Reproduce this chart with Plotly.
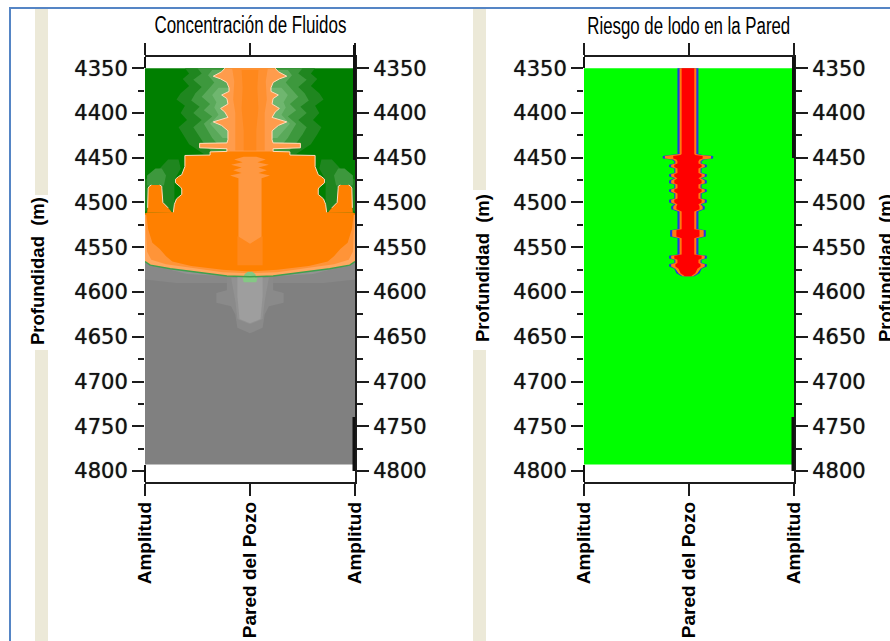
import plotly.graph_objects as go

W, H = 890, 641
depth_ticks_start, depth_tick_step = 4350, 50
x_tick_vals = [-100, 0, 100]
x_tick_labels = ["Amplitud", "Pared del Pozo", "Amplitud"]
titles = ["Concentración de Fluidos", "Riesgo de lodo en la Pared"]
y_title = "Profundidad\u00a0\u00a0(m)"
DEPTH_TOP, DEPTH_BOTTOM = 4350, 4792.5

# ---- Left panel: half widths (% of half panel) against depth (m)
body_depth = [4350,4354,4359,4362,4366,4372,4376,4380,4384,4390,4395,4399,4405,4410,4414,4420,4430,4433.5,
              4434,4439,4440,4443,4443.5,4447,4447.5,4460,4469,4471,4474,4478,4483,4485,4491,4496,4502,4511,4512,4566,4570,4574,4578,4582,4583]
body_half  = [24,27,35,28,22,20,20,27,22,21,28,24,21,35,27,21,21,22,
              48,48,22,22,38,38,62,62,65,68,71,71,66,65,65,70,72,73,100,100,95,76,50,22,0]
stem_end = 22     # points of the body profile that form the upper stem
edge_end = 36     # points of the body profile that border green

low_depth_pale = [4514,4566,4570,4574,4578,4582,4583]
low_half_pale  = [100,100,95,76,50,22,0]
low_depth_mid  = [4514,4535,4555,4564,4569,4573,4578,4579]
low_half_mid   = [99.5,99,98,94,80,56,26,0]
low_depth_core = [4511.5,4530,4545,4552,4560,4566,4571,4575,4577]
low_half_core  = [99,97,93,86,80,74,56,26,0]

tower_depth = [4480.5,4482,4484,4500,4506,4511.5]
tower_in    = [86,84,84,83,78,74]
tower_out   = [94,96,97,97,97.5,98]

halo1_depth = [4350,4356,4362,4370,4378,4385,4392,4400,4408,4416,4424,4435,4446]
halo1_half  = [62,58,64,58,66,70,62,66,60,68,64,58,44]
halo2_depth = [4350,4356,4363,4371,4378,4386,4393,4400,4408,4416,4424,4434,4444]
halo2_half  = [50,46,54,46,52,56,48,54,46,54,50,44,36]
halo3_depth = [4352,4358,4366,4374,4382,4390,4397,4404,4412,4420,4428,4436]
halo3_half  = [36,40,34,40,46,38,44,36,44,40,36,30]
halo4_depth = [4372,4380,4388,4394,4402,4412,4420,4428]
halo4_half  = [30,36,32,34,30,38,32,26]

corner1_depth = [4452,4462,4475,4490,4510]
corner1_in    = [68,66,72,72,72]
corner1_out   = [78,86,100,100,100]
corner2_depth = [4462,4470,4481]
corner2_in    = [84,80,82]
corner2_out   = [90,98,98]

stem2_depth = [4350,4365,4385,4400,4420,4442]
stem2_half  = [17,15,16,14,14,14]
stem3_depth = [4352,4372,4395,4420,4442]
stem3_half  = [8,7,8,6,6]

ripple_depth = [4449,4452,4455,4458,4461,4464,4467,4470,4473,4538,4546]
ripple_half  = [6,15,7,18,8,16,8,19,11,11,0]
column_depth = [4538,4570]
column_half  = [12,12]

gray1_depth = [4566,4586,4590]
gray1_half  = [100,100,70]
gray2_depth = [4568,4580,4584]
gray2_half  = [100,60,0]
gray3_depth = [4584,4598,4601,4612,4616,4625,4640,4646]
gray3_half  = [22,22,32,32,18,14,12,0]
gray4_depth = [4584,4610,4630,4636]
gray4_half  = [18,14,12,0]
gray5_depth = [4583,4605,4630,4635]
gray5_half  = [12,12,10,0]

bump_depth = [4577.5,4580,4585,4589]
bump_half  = [2,5,7,6]

# ---- Right panel
risk_depth  = [4350,4446,4447,4448,4451,4452,4454,4456.5,4458,4460.5,4462,4467,4468.5,4471,4473,4475.5,4478.5,4480,4484,4485.5,4488,
               4490,4495.5,4497,4500,4502,4504.5,4507.5,4510,4530,4531,4538,4540,4558,4559.5,4562.5,4564,4567.5,4569,4571.5,4574,4579,4582.5]
risk_blue   = [10,10,14,24,24,16,13,13,18,18,13,13,18,18,13,18,18,13,13,18,18,
               13,13,18,18,13,16,16,10,10,17,17,10,10,18,18,13,13,18,18,13,11,6]
risk_orange = [8,8,12,22,22,14,12,12,16,16,12,12,16,16,12,16,16,12,12,16,16,
               12,12,16,16,12,14,14,8,8,15,15,8,8,16,16,12,12,16,16,12,9,5]
risk_red    = [6,6,7,14,14,11,10,10,13,13,10,10,13,13,10,13,13,10,10,13,13,
               10,10,13,13,10,11,11,6,6,11,11,6,6,13,13,10,10,12,12,9,7,3]

GREEN, HALO1, HALO2, HALO3, HALO4 = "#007f00", "#1f861f", "#3d983d", "#5aa95a", "#6fb66f"
ORANGE, O_LIGHT, O_MID, O_CORE = "#ff8000", "#ff9c4c", "#ff9030", "#ff881c"
GRAY = "#808080"


def mirror(depth, half, centre=0):
    return ([centre + h for h in half] + [centre - h for h in reversed(half)],
            list(depth) + list(reversed(depth)))


def band(depth, inner, outer):
    d = list(depth) + list(reversed(depth))
    r = list(outer) + list(reversed(inner))
    xs = r + [r[0], None] + [-v for v in r] + [-r[0]]
    ys = d + [d[0], None] + d + [d[0]]
    return xs, ys


def both_sides(depth, half):
    return (list(half) + [None] + [-h for h in half], list(depth) + [None] + list(depth))


fig = go.Figure()


def poly(xy, color, axes=("x", "y")):
    fig.add_trace(go.Scatter(
        x=xy[0], y=xy[1], mode="lines", fill="toself", fillcolor=color,
        line=dict(color=color, width=0), xaxis=axes[0], yaxis=axes[1],
        hoverinfo="skip", showlegend=False))


def stroke(xy, color, width):
    fig.add_trace(go.Scatter(x=xy[0], y=xy[1], mode="lines", line=dict(color=color, width=width),
                             hoverinfo="skip", showlegend=False))


# left panel, back to front
poly(mirror([DEPTH_TOP, 4575], [100, 100]), GREEN)
poly(mirror(halo1_depth, halo1_half), HALO1)
poly(mirror(halo2_depth, halo2_half), HALO2)
poly(mirror(halo3_depth, halo3_half), HALO3)
poly(mirror(halo4_depth, halo4_half), HALO4)
poly(band(corner1_depth, corner1_in, corner1_out), HALO1)
poly(band(corner2_depth, corner2_in, corner2_out), HALO2)
poly(mirror([4560, DEPTH_BOTTOM], [100, 100]), GRAY)
poly(mirror(gray1_depth, gray1_half), "#888888")
poly(mirror(gray2_depth, gray2_half), "#939393")
poly(mirror(gray3_depth, gray3_half), "#8a8a8a")
poly(mirror(gray4_depth, gray4_half), "#929292")
poly(mirror(gray5_depth, gray5_half), "#9e9e9e")
poly(mirror(body_depth, body_half), ORANGE)
poly(mirror(body_depth[:stem_end], body_half[:stem_end]), O_LIGHT)
poly(mirror(stem2_depth, stem2_half), O_MID)
poly(mirror(stem3_depth, stem3_half), O_CORE)
poly(mirror(low_depth_pale, low_half_pale), "#ffa860")
poly(mirror(low_depth_mid, low_half_mid), "#ff9438")
poly(mirror(low_depth_core, low_half_core), ORANGE)
poly(mirror(column_depth, column_half), "#ff881c")
poly(mirror(ripple_depth, ripple_half), "#ff9842")
poly(band(tower_depth, tower_in, tower_out), ORANGE)
stroke(both_sides(body_depth[:edge_end], body_half[:edge_end]), "#ffdcbc", 1)
stroke(both_sides(tower_depth[:-1], tower_in[:-1]), "#ffdcbc", 1)
stroke(both_sides(tower_depth[:-1], tower_out[:-1]), "#ffdcbc", 1)
poly(mirror(bump_depth, bump_half), "#84c884")
stroke(both_sides(low_depth_pale[1:], low_half_pale[1:]), "#3f9f4f", 1.5)

# right panel
AX2 = ("x2", "y2")
poly(mirror([DEPTH_TOP, DEPTH_BOTTOM], [100, 100]), "#00ff00", AX2)
poly(mirror(risk_depth, risk_blue, -1), "#2038e0", AX2)
poly(mirror(risk_depth, risk_orange, -1), "#ff7a10", AX2)
poly(mirror(risk_depth, risk_red, -1), "#ff0000", AX2)

# carriers for the right-hand depth axes
for xa, ya in (("x", "y3"), ("x2", "y4")):
    fig.add_trace(go.Scatter(x=[0], y=[DEPTH_TOP], mode="markers", opacity=0, xaxis=xa, yaxis=ya,
                             hoverinfo="skip", showlegend=False))

AXC = "#1c1c1c"
BLUR = "0 0 1px rgba(0,0,0,0.7)"
NUM = dict(family="DejaVu Sans", size=21, color="#111111", shadow=BLUR)
LAB = dict(family="Liberation Sans", size=19, color="#000000")
RNG = [4812.6, 4338]


def xax(dom, anchor):
    return dict(domain=dom, range=[-100, 100], anchor=anchor, tickmode="array", tickvals=x_tick_vals,
                ticktext=x_tick_labels, tickangle=-90, ticks="outside", ticklen=12, tickwidth=2, tickcolor=AXC,
                showline=True, linewidth=2, linecolor=AXC, mirror="ticks", showgrid=False, zeroline=False,
                automargin=False, tickfont=dict(LAB, weight="bold"), fixedrange=True, ticklabelstandoff=-2)


def yax(anchor, side, showline, overlaying=None):
    d = dict(range=RNG, anchor=anchor, side=side, tickmode="linear", tick0=depth_ticks_start, dtick=depth_tick_step,
             ticks="outside", ticklen=12, tickwidth=2, tickcolor=AXC, showline=showline, linewidth=2, linecolor=AXC,
             showgrid=False, zeroline=False, automargin=False, tickfont=NUM, fixedrange=True,
             minor=dict(tickmode="linear", tick0=depth_ticks_start + 25, dtick=depth_tick_step,
                        ticks="outside", ticklen=6, tickwidth=2, tickcolor=AXC, showgrid=False))
    if overlaying:
        d["overlaying"] = overlaying
    return d


DOM_L = [145 / W, 355 / W]
DOM_R = [584 / W, 794 / W]


def px(x0, y0, x1, y1, **kw):
    return dict(xref="paper", yref="paper", x0=x0 / W, x1=x1 / W, y0=1 - y0 / H, y1=1 - y1 / H, **kw)


def bar(x0, y0, x1, y1, color, layer="below"):
    return px(x0, y0, x1, y1, type="rect", fillcolor=color, line_width=0, layer=layer)


def seg(x, y0, y1, w=2):
    return px(x, y0, x, y1, type="line", line=dict(color="#111111", width=w), layer="above")


BEIGE, BLUE = "#ece9d8", "#5585c5"
shapes = [
    bar(9, 7, 890, 9, BLUE), bar(9, 7, 11, 641, BLUE),
    bar(35, 9, 48, 195, BEIGE), bar(35, 350, 48, 641, BEIGE),
    bar(473, 9, 486, 190, BEIGE), bar(473, 350, 486, 641, BEIGE),
    seg(145, 57, 68), seg(145, 465, 482),
    seg(584, 57, 68), seg(584, 465, 482),
    seg(354.5, 45, 160, 3), seg(354, 417, 471, 3),
    seg(793.5, 57, 158, 3), seg(793, 417, 471, 3),
]


def ann(text, x, y, font, angle=0):
    return dict(text=text, x=x / W, y=1 - y / H, xref="paper", yref="paper", showarrow=False,
                xanchor="center", yanchor="middle", font=font, textangle=angle)


TT = dict(family="Liberation Sans", size=23, color="#000000")
YT = dict(family="Liberation Sans", size=18.5, color="#000000", weight="bold")
anns = [
    ann(titles[0], 250, 25, TT), ann(titles[1], 688.5, 26, TT),
    ann(y_title, 38, 271, YT, -90), ann(y_title, 482, 268, YT, -90), ann(y_title, 885, 268, YT, -90),
]

fig.update_layout(
    width=W, height=H, autosize=False, template="none",
    margin=dict(l=0, r=0, t=0, b=0, pad=0), paper_bgcolor="white", plot_bgcolor="white", showlegend=False,
    xaxis=xax(DOM_L, "y"), xaxis2=xax(DOM_R, "y2"),
    yaxis=dict(yax("x", "left", False), domain=[1 - 482.4 / H, 1 - 57.4 / H]),
    yaxis2=dict(yax("x2", "left", False), domain=[1 - 482.4 / H, 1 - 57.4 / H]),
    yaxis3=yax("x", "right", True, "y"),
    yaxis4=yax("x2", "right", True, "y2"),
    shapes=shapes, annotations=anns,
)

# The reference titles are set in a narrow face; squeeze the real text to the reference widths.
narrow = """
document.body.style.margin='0';
function squeeze(){
  var t=document.querySelectorAll('.annotation-text');
  var w=[192,203];
  for(var i=0;i<2&&i<t.length;i++){t[i].setAttribute('textLength',w[i]);t[i].setAttribute('lengthAdjust','spacingAndGlyphs');}
}
squeeze();setTimeout(squeeze,100);
"""
fig.write_html("out.html", post_script=narrow, config={"displayModeBar": False})
